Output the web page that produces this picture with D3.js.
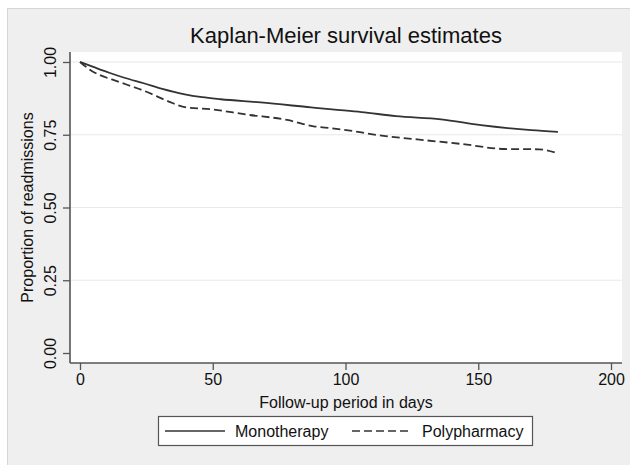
<!DOCTYPE html>
<html>
<head>
<meta charset="utf-8">
<script src="https://cdn.jsdelivr.net/npm/d3@7"></script>
<style>
  body { margin: 0; background: #fff; }
  text { font-family: "Liberation Sans", Arial, Helvetica, sans-serif; fill: #111; }
</style>
</head>
<body>
<script>
// Data (days, survival proportion)
const monoDays = [0, 5, 11, 17, 24, 31, 39, 46, 53, 68, 87, 95, 106, 119, 136, 151, 170, 180];
const monoSurv = [1.0, 0.983, 0.963, 0.945, 0.927, 0.908, 0.890, 0.879, 0.872, 0.861, 0.844, 0.837, 0.828, 0.814, 0.803, 0.783, 0.766, 0.760];
const polyDays = [0, 4, 7.5, 12, 18, 23, 29, 34, 40, 49, 63, 78, 88, 95, 106, 109, 127, 144, 160, 173, 180];
const polySurv = [1.0, 0.972, 0.955, 0.940, 0.921, 0.905, 0.882, 0.862, 0.844, 0.838, 0.819, 0.801, 0.779, 0.772, 0.758, 0.753, 0.734, 0.718, 0.701, 0.700, 0.686];
const xTicks = [0, 50, 100, 150, 200];
const yTicks = [0, 0.25, 0.5, 0.75, 1];
const seriesNames = ["Monotherapy", "Polypharmacy"];

const width = 630, height = 465;
const plot = { left: 70, right: 622, top: 52, bottom: 363 };

const svg = d3.select("body").append("svg")
    .attr("width", width)
    .attr("height", height);

// outer grey panel
svg.append("rect")
    .attr("x", 7.5).attr("y", 8.5)
    .attr("width", 640).attr("height", 470)
    .attr("fill", "#efefef")
    .attr("stroke", "#d6d6d6");

// plot region
svg.append("rect")
    .attr("x", plot.left).attr("y", plot.top)
    .attr("width", plot.right - plot.left)
    .attr("height", plot.bottom - plot.top)
    .attr("fill", "#fff");

// Scales
const x = d3.scaleLinear().domain([0, 200]).range([80, 611]);
const y = d3.scaleLinear().domain([0, 1]).range([353, 62]);

// gridlines
svg.append("g")
    .selectAll("line")
    .data(yTicks.filter(d => d > 0))
    .join("line")
    .attr("x1", plot.left).attr("x2", plot.right)
    .attr("y1", d => y(d)).attr("y2", d => y(d))
    .attr("stroke", "#e8e8e8")
    .attr("stroke-width", 1.2);

// Axes
const xAxisGroup = svg.append("g")
    .attr("transform", `translate(0, ${plot.bottom})`)
    .call(d3.axisBottom(x).tickValues(xTicks).tickSize(7).tickPadding(4).tickSizeOuter(0));
const yAxisGroup = svg.append("g")
    .attr("transform", `translate(${plot.left}, 0)`)
    .call(d3.axisLeft(y).tickValues(yTicks).tickSize(7).tickSizeOuter(0)
        .tickFormat(d3.format(".2f")));

// axis lines span the whole plot region
xAxisGroup.select(".domain").attr("d", `M${plot.left},0H${plot.right}`);
yAxisGroup.select(".domain").attr("d", `M0,${plot.top}V${plot.bottom}`);

svg.selectAll(".domain").attr("stroke", "#555").attr("stroke-width", 1.6);
svg.selectAll(".tick line").attr("stroke", "#555").attr("stroke-width", 1.3);
svg.selectAll(".tick text")
    .attr("font-size", 16)
    .attr("font-family", "Liberation Sans, Arial, sans-serif")
    .attr("fill", "#111");

// rotate y tick labels
yAxisGroup.selectAll(".tick text")
    .attr("x", null).attr("dy", null)
    .attr("transform", "translate(-14, 0) rotate(-90)")
    .attr("text-anchor", "middle")
    .attr("y", 0);

// Lines
const line = d3.line()
    .x(d => x(d[0]))
    .y(d => y(d[1]))
    .curve(d3.curveMonotoneX);

svg.append("path")
    .datum(monoDays.map((d, i) => [d, monoSurv[i]]))
    .attr("fill", "none")
    .attr("stroke", "#333")
    .attr("stroke-width", 1.8)
    .attr("d", line);

svg.append("path")
    .datum(polyDays.map((d, i) => [d, polySurv[i]]))
    .attr("fill", "none")
    .attr("stroke", "#333")
    .attr("stroke-width", 1.8)
    .attr("stroke-dasharray", "8,4")
    .attr("d", line);

// Titles
svg.append("text")
    .attr("x", (plot.left + plot.right) / 2)
    .attr("y", 43)
    .attr("text-anchor", "middle")
    .attr("font-size", 22)
    .text("Kaplan-Meier survival estimates");

svg.append("text")
    .attr("x", (plot.left + plot.right) / 2)
    .attr("y", 408)
    .attr("text-anchor", "middle")
    .attr("font-size", 16)
    .text("Follow-up period in days");

svg.append("text")
    .attr("transform", `translate(33, ${(plot.top + plot.bottom) / 2}) rotate(-90)`)
    .attr("text-anchor", "middle")
    .attr("font-size", 16)
    .text("Proportion of readmissions");

// Legend
const legend = svg.append("g");
legend.append("rect")
    .attr("x", 158.5).attr("y", 416.5)
    .attr("width", 374).attr("height", 29)
    .attr("fill", "#fff")
    .attr("stroke", "#555")
    .attr("stroke-width", 1.2);

const legendItems = [
    { name: seriesNames[0], x0: 165, dash: null },
    { name: seriesNames[1], x0: 352, dash: "8,4" }
];
legendItems.forEach(it => {
    legend.append("line")
        .attr("x1", it.x0).attr("x2", it.x0 + 60)
        .attr("y1", 431).attr("y2", 431)
        .attr("stroke", "#333")
        .attr("stroke-width", 1.6)
        .attr("stroke-dasharray", it.dash);
    legend.append("text")
        .attr("x", it.x0 + 70)
        .attr("y", 436.5)
        .attr("font-size", 16)
        .text(it.name);
});
</script>
</body>
</html>
